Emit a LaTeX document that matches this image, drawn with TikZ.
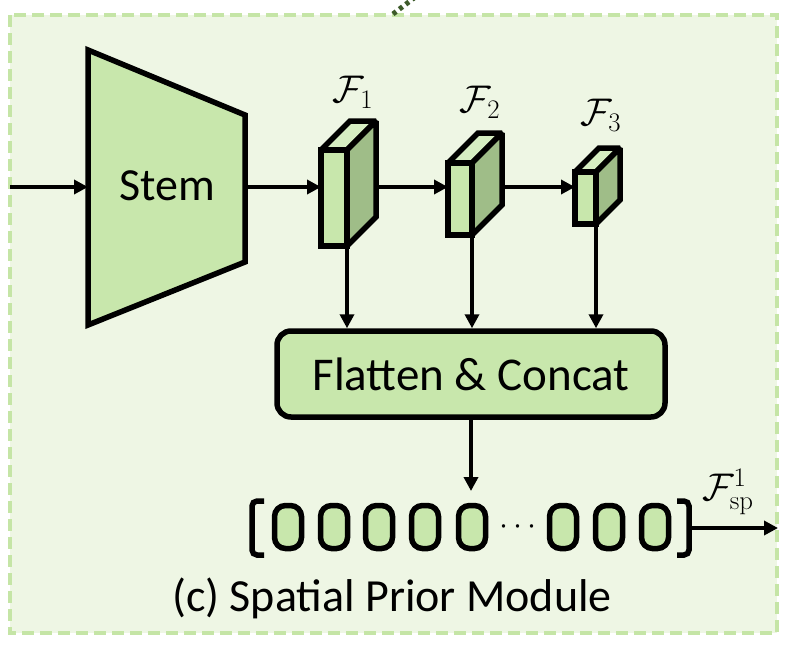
\documentclass[tikz,border=0pt]{standalone}
\usepackage[no-math]{fontspec}
\usepackage{graphicx}
\setmainfont{Carlito}
\usetikzlibrary{arrows.meta,calc}
\definecolor{bgg}{HTML}{EEF6E4}
\definecolor{frameg}{HTML}{C5E5A6}
\definecolor{boxg}{HTML}{C8E7AC}
\definecolor{topg}{HTML}{D6EEC2}
\definecolor{sideg}{HTML}{9FBD88}
\definecolor{dotg}{HTML}{3D5A2A}
\tikzset{
  blk/.style={draw=black, line width=5.5pt, line join=miter},
  cubeline/.style={draw=black, line width=5.5pt, line join=miter, miter limit=1.5},
  arr/.style={draw=black, line width=4pt, -{Triangle[length=14pt,width=14pt]}},
  big/.style={font=\fontsize{46}{52}\selectfont},
  mth/.style={font=\fontsize{24}{28}\selectfont, inner sep=0pt},
  frontface/.style={cubeline, fill=boxg, inner sep=0pt, outer sep=0pt},
  token/.style={blk, fill=boxg, rounded corners=11pt, minimum width=27pt, minimum height=43pt, inner sep=0pt}
}
\newcommand{\featcube}[6]{%
  \draw[cubeline, fill=topg] (#2,#3) -- (#2+#6,#3-#6) -- (#4+#6,#3-#6) -- (#4,#3) -- cycle;
  \draw[cubeline, fill=sideg] (#4,#3) -- (#4+#6,#3-#6) -- (#4+#6,#5-#6) -- (#4,#5) -- cycle;
  \node[frontface, minimum width={(#4-#2)*1pt}, minimum height={(#5-#3)*1pt}] (#1) at ({(#2+#4)/2},{(#3+#5)/2}) {};
  \coordinate (#1side) at (#4+#6,187);
}
\newcommand{\lblmath}[1]{\scalebox{1.55}{$#1$}}
\begin{document}
\begin{tikzpicture}[x=1pt,y=-1pt]
\useasboundingbox (0,0) rectangle (786,648);
\fill[white] (0,0) rectangle (786,648);
\draw[frameg, line width=4pt, dash pattern=on 12pt off 6pt, fill=bgg] (10,15) rectangle (777,633);
\draw[dotg, line width=5pt, dash pattern=on 4pt off 4pt] (393,14) -- (414,-2);

% Stem
\draw[blk, fill=boxg] (88,50) -- (245,115) -- (245,262) -- (88,325) -- cycle;
\node[big] (stem) at (167,186) {Stem};
\coordinate (stemL) at (88,187);
\coordinate (stemR) at (245,187);
\coordinate (in) at (10,187);
\draw[arr] (in) -- (stemL);

% feature cubes
\featcube{f1}{321}{150}{347}{246}{29}
\featcube{f2}{448}{163}{472}{235}{30}
\featcube{f3}{575}{172}{596}{224}{24}
\node[mth] (l1) at (353,92) {\lblmath{\mathcal{F}_1}};
\node[mth] (l2) at (480,102) {\lblmath{\mathcal{F}_2}};
\node[mth] (l3) at (601,115) {\lblmath{\mathcal{F}_3}};

\draw[arr] (stemR) -- (stemR -| f1.west);
\draw[arr] (f1side) -- (f1side -| f2.west);
\draw[arr] (f2side) -- (f2side -| f3.west);

% Flatten & Concat
\node[blk, fill=boxg, rounded corners=14pt, minimum width=388pt, minimum height=86pt, font=\fontsize{47}{52}\selectfont] (flat) at (471,374) {Flatten \& Concat};
\draw[arr] (f1.south east) -- (f1.south east |- flat.north);
\draw[arr] (f2.south east) -- (f2.south east |- flat.north);
\draw[arr] (f3.south east) -- (f3.south east |- flat.north);

% tokens
\node[token] (t1) at (288,527) {};
\node[token] (t2) at (334,527) {};
\node[token] (t3) at (379,527) {};
\node[token] (t4) at (425,527) {};
\node[token] (t5) at (472,527) {};
\node[font=\fontsize{24}{28}\selectfont, inner sep=0pt] (dots) at (518,527) {\scalebox{1.3}{$\cdots$}};
\node[token] (t6) at (563,527) {};
\node[token] (t7) at (609,527) {};
\node[token] (t8) at (655,527) {};
\coordinate (tokTop) at (471,491);
\draw[arr] (flat.south) -- (tokTop);

\draw[blk, rounded corners=5pt] (264,501) -- (252,501) -- (252,555) -- (264,555);
\draw[blk, rounded corners=5pt] (677,501) -- (689,501) -- (689,555) -- (677,555);
\coordinate (bR) at (689,528);
\coordinate (out) at (778,528);
\draw[arr] (bR) -- (out);
\node[mth] (lsp) at (728,492) {\lblmath{\mathcal{F}_{\mathrm{sp}}^{1}}};

\node[big] (cap) at (392,598) {(c) Spatial Prior Module};
\end{tikzpicture}
\end{document}
